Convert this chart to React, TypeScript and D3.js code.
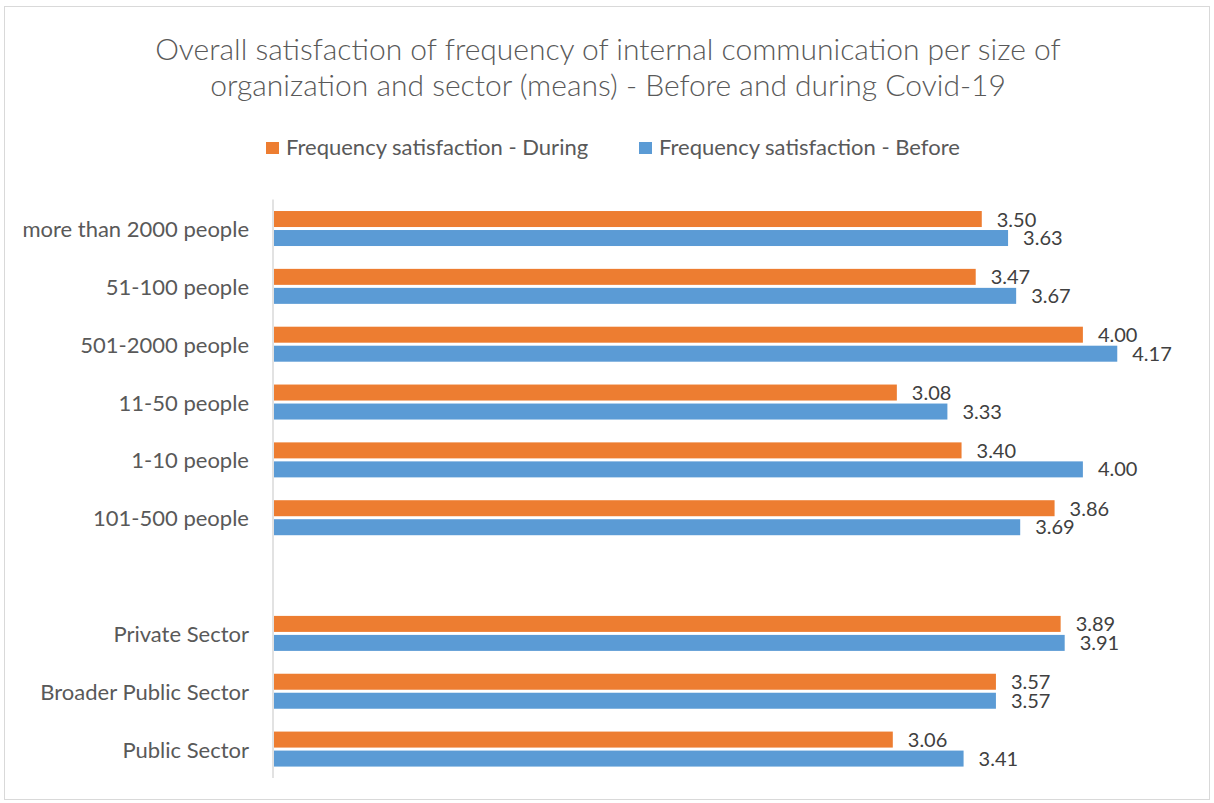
import React from "react";
import * as d3 from "d3";

const categories = [
  "more than 2000 people",
  "51-100 people",
  "501-2000 people",
  "11-50 people",
  "1-10 people",
  "101-500 people",
  "",
  "Private Sector",
  "Broader Public Sector",
  "Public Sector",
];
const during: (number | null)[] = [3.5, 3.47, 4.0, 3.08, 3.4, 3.86, null, 3.89, 3.57, 3.06];
const before: (number | null)[] = [3.63, 3.67, 4.17, 3.33, 4.0, 3.69, null, 3.91, 3.57, 3.41];
const seriesNames = ["Frequency satisfaction - During", "Frequency satisfaction - Before"];
const titleLines = [
  "Overall satisfaction of frequency of internal communication per size of",
  "organization and sector (means) - Before and during Covid-19",
];

const W = 1214;
const H = 803;
const ORANGE = "#ED7D31";
const BLUE = "#5B9BD5";
const TEXT = "#595959";
const FONT = "Lato, 'Open Sans', sans-serif";

export default function App() {
  const x = d3.scaleLinear().domain([0, 4.5]).range([274, 1184]);
  const y = d3
    .scaleBand<number>()
    .domain(categories.map((_, i) => i))
    .range([199.6, 778])
    .padding(0);
  const bw = y.bandwidth();

  return (
    <svg
      width={W}
      height={H}
      style={{ position: "absolute", left: 0, top: 0, background: "#fff" }}
      fontFamily={FONT}
    >
      <rect x={0} y={0} width={W} height={H} fill="#fff" />
      <rect x={4.5} y={6.5} width={1205} height={793} fill="none" stroke="#d9d9d9" />
      {titleLines.map((t, i) => (
        <text
          key={i}
          x={608}
          y={59.5 + i * 36}
          textAnchor="middle"
          fontSize={30}
          fontWeight={300}
          fill={TEXT}
        >
          {t}
        </text>
      ))}
      {/* legend */}
      <rect x={266} y={142} width={13} height={12} fill={ORANGE} />
      <text x={286} y={155} fontSize={22} fill={TEXT}>
        {seriesNames[0]}
      </text>
      <rect x={639} y={142} width={13} height={12} fill={BLUE} />
      <text x={659} y={155} fontSize={22} fill={TEXT}>
        {seriesNames[1]}
      </text>

      {categories.map((c, i) => {
        const cy = (y(i) as number) + bw / 2;
        const d = during[i];
        const b = before[i];
        return (
          <g key={i}>
            {c && (
              <text
                x={249}
                y={cy}
                textAnchor="end"
                dominantBaseline="central"
                fontSize={22}
                fill={TEXT}
              >
                {c}
              </text>
            )}
            {d != null && (
              <>
                <rect x={x(0)} y={cy - 17.5} width={x(d) - x(0)} height={16} fill={ORANGE} />
                <text x={x(d) + 15} y={cy - 2} fontSize={20} fill="#404040">
                  {d.toFixed(2)}
                </text>
              </>
            )}
            {b != null && (
              <>
                <rect x={x(0)} y={cy + 1.5} width={x(b) - x(0)} height={16} fill={BLUE} />
                <text x={x(b) + 15} y={cy + 16.5} fontSize={20} fill="#404040">
                  {b.toFixed(2)}
                </text>
              </>
            )}
          </g>
        );
      })}
      <line x1={273} x2={273} y1={199.6} y2={778} stroke="#d9d9d9" strokeWidth={1.5} />
    </svg>
  );
}
